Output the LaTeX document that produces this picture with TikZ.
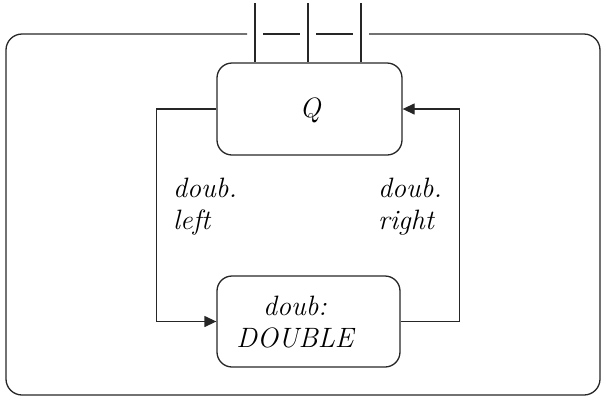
\documentclass[tikz,border=0pt]{standalone}
\usetikzlibrary{arrows.meta,calc}
\begin{document}
\begin{tikzpicture}[x=1pt,y=-1pt,
  line/.style={line width=1.3pt,draw=black!85},
  box/.style={line, rectangle, rounded corners=15pt, inner sep=0pt},
  lbl/.style={font=\fontsize{28}{32}\selectfont\itshape, inner sep=0pt, align=left},
  arr/.style={line, -{Triangle[length=12pt,width=11pt]}}]
\useasboundingbox (0,0) rectangle (606,400);
% outer frame with gaps in the top edge
\draw[line, rounded corners=16pt] (369,34) -- (600,34) -- (600,395) -- (6,395) -- (6,34) -- (247,34);
\draw[line] (263,34) -- (300,34);
\draw[line] (316,34) -- (353,34);
% boxes
\node[box, minimum width=185pt, minimum height=92pt] (Q) at (309.5,109) {};
\node[lbl, anchor=base] (Qt) at (310,117) {Q};
\node[box, minimum width=183pt, minimum height=91pt] (doub) at (308.5,321.5) {};
\node[lbl, align=center, anchor=base] (doubt) at (295,347) {doub:\\DOUBLE};
% top wires
\coordinate (t1) at (255,3);
\coordinate (t2) at (308,3);
\coordinate (t3) at (361,3);
\draw[line] (t1) -- (t1 |- Q.north);
\draw[line] (t2) -- (t2 |- Q.north);
\draw[line] (t3) -- (t3 |- Q.north);
% feedback connectors
\draw[arr] (Q.west) -- ++(-60,0) |- (doub.west);
\draw[arr] (doub.east) -- ++(59,0) |- (Q.east);
% labels (base anchor = last line)
\node[lbl, anchor=base west] (ll) at (173,229) {doub.\\left};
\node[lbl, anchor=base west] (rl) at (378,229) {doub.\\right};
\end{tikzpicture}
\end{document}
